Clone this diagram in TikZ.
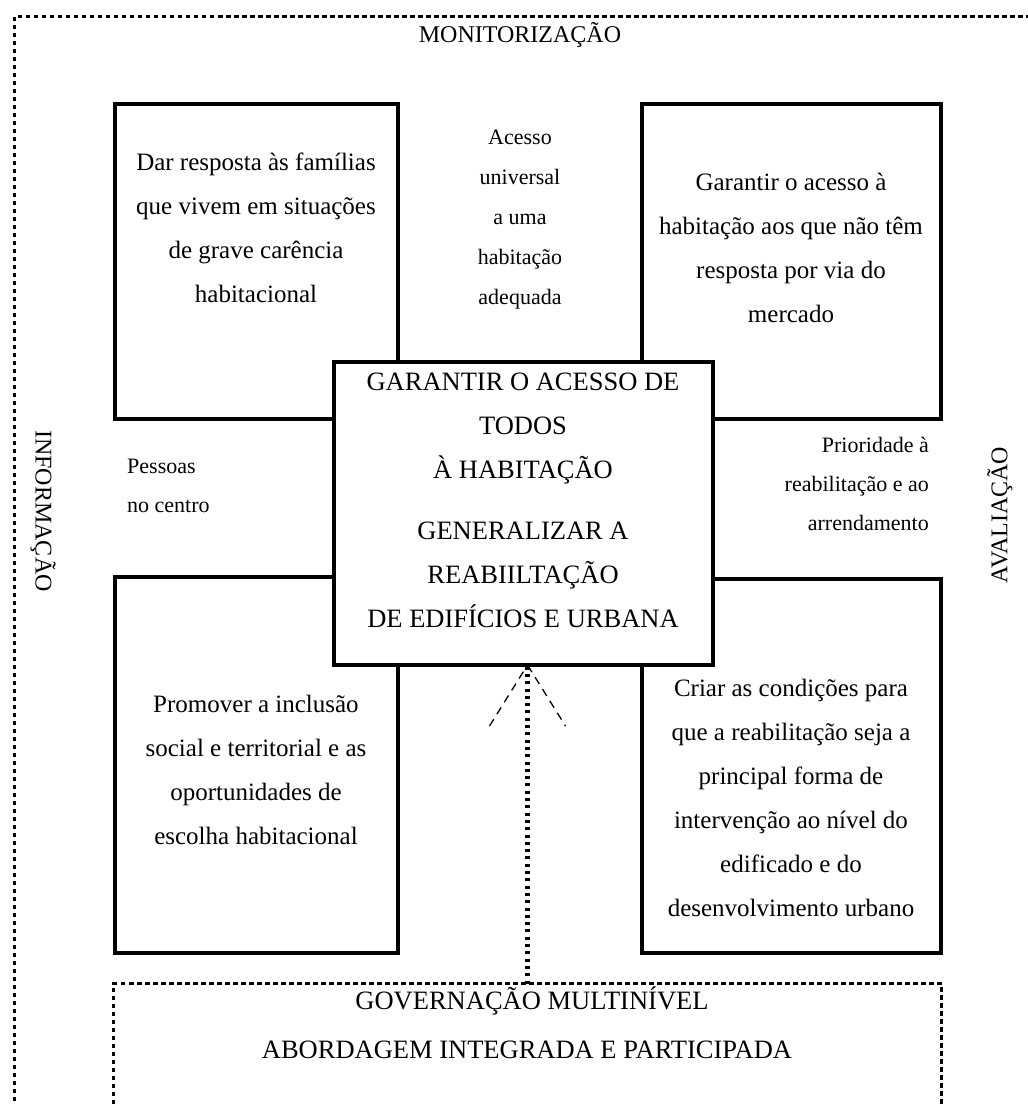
\documentclass[tikz,border=0pt]{standalone}
\usepackage{fontspec}
\setmainfont{Liberation Serif}

\begin{document}
\begin{tikzpicture}[x=1pt,y=-1pt,
	goalbox/.style={draw=black,line width=4pt,rectangle,inner sep=0pt,outer sep=0pt},
	dotframe/.style={draw=black,line width=3.5pt,dash pattern=on 4.5pt off 3.5pt,rectangle,inner sep=0pt,outer sep=0pt},
	govline/.style={draw=black,line width=4.5pt,dash pattern=on 3pt off 4.3pt},
	headline/.style={draw=black,line width=1.3pt,dash pattern=on 8pt off 6pt,rounded corners=3pt},
	maintext/.style={align=center,inner sep=0pt,font=\fontsize{25}{44}\selectfont},
	capstext/.style={align=center,inner sep=0pt,font=\fontsize{26.5}{44}\selectfont},
	sidetext/.style={inner sep=0pt,font=\fontsize{22}{39}\selectfont},
	captext/.style={inner sep=0pt,font=\fontsize{24}{30}\selectfont}]
\useasboundingbox (0,0) rectangle (1028,1104);
% outer frame and labels
\node[dotframe,minimum width=1040pt,minimum height=1120pt,anchor=north west] (frame) at (14.5,16.5) {};
\node[captext] (monit) at (520,35) {MONITORIZAÇÃO};
\node[captext,rotate=-90] (info) at (43,511) {INFORMAÇÃO};
\node[captext,rotate=90] (aval) at (1000,515) {AVALIAÇÃO};
% four goals
\node[goalbox,minimum width=283pt,minimum height=315pt] (famil) at (256.5,261.5) {};
\node[goalbox,minimum width=299pt,minimum height=315pt] (acesso) at (791.5,261.5) {};
\node[goalbox,minimum width=283pt,minimum height=376pt] (inclus) at (256.5,765) {};
\node[goalbox,minimum width=299pt,minimum height=374pt] (reabil) at (791.5,766) {};
\node[maintext] (familtxt) at (256,228) {Dar resposta às famílias\\que vivem em situações\\de grave carência\\habitacional};
\node[maintext] (acessotxt) at (791,248) {Garantir o acesso à\\habitação aos que não têm\\resposta por via do\\mercado};
\node[maintext] (inclustxt) at (256,770) {Promover a inclusão\\social e territorial e as\\oportunidades de\\escolha habitacional};
\node[maintext] (reabiltxt) at (791,798) {Criar as condições para\\que a reabilitação seja a\\principal forma de\\intervenção ao nível do\\edificado e do\\desenvolvimento urbano};
% principles
\node[sidetext,align=center,font=\fontsize{22}{40}\selectfont] (univ) at (520,220) {Acesso\\universal\\a uma\\habitação\\adequada};
\node[sidetext,align=left,anchor=west] (pessoas) at (127,486) {Pessoas\\no centro};
\node[sidetext,align=right,anchor=east] (priorid) at (929,484) {Prioridade à\\reabilitação e ao\\arrendamento};
% centre
\node[goalbox,fill=white,minimum width=379pt,minimum height=303pt] (centre) at (523.5,513.5) {};
\node[capstext] (centretxt) at (523,500) {GARANTIR O ACESSO DE\\TODOS\\À HABITAÇÃO\\[17pt]GENERALIZAR A\\REABIILTAÇÃO\\DE EDIFÍCIOS E URBANA};
% governance
\node[dotframe,minimum width=828pt,minimum height=140pt,anchor=north] (gov) at (527.5,983.5) {};
\node[capstext] (govtxt) at (532,1001) {GOVERNAÇÃO MULTINÍVEL};
\node[capstext] (abordtxt) at (527,1050) {ABORDAGEM INTEGRADA E PARTICIPADA};
\coordinate (tip) at (gov.north |- centre.south);
\draw[govline] (gov.north) -- (tip);
\draw[headline] (tip) ++(-38,61) -- (tip) -- ++(38,61);
\end{tikzpicture}
\end{document}
